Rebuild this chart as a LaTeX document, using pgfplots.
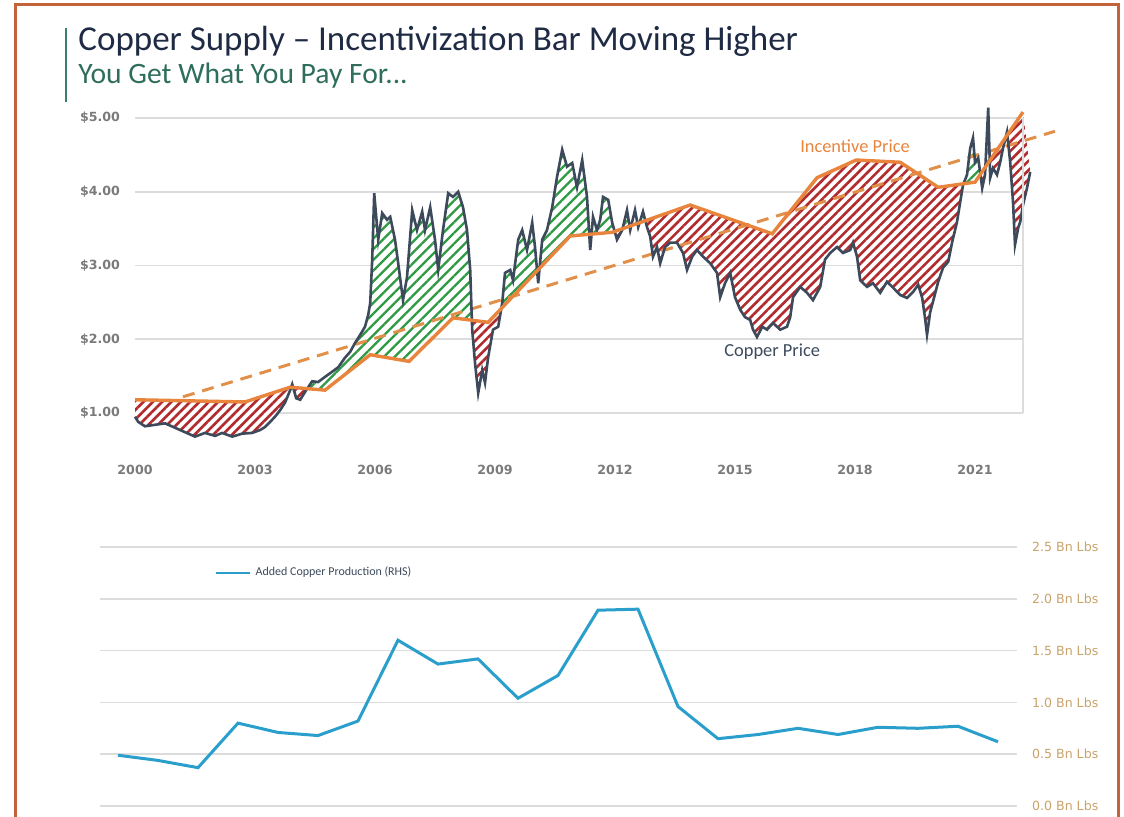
\documentclass[border=0pt]{standalone}
\usepackage{fontspec}
\setmainfont{Carlito}
\newfontfamily\tickfont{DejaVu Sans}
\usepackage{pgfplots}
\pgfplotsset{compat=1.18}
\usepackage{pgfplotstable}
\usepgfplotslibrary{fillbetween}
\usetikzlibrary{patterns.meta}

\definecolor{titlenavy}{HTML}{1F2A44}
\definecolor{subteal}{HTML}{2F6E5C}
\definecolor{barteal}{HTML}{3A8070}
\definecolor{framecol}{HTML}{C4623A}
\definecolor{coppercol}{HTML}{3C4A5C}
\definecolor{incentcol}{HTML}{E8843C}
\definecolor{trendcol}{HTML}{E0904A}
\definecolor{redhatch}{HTML}{B02A2E}
\definecolor{greenhatch}{HTML}{2F9A44}
\definecolor{gridcol}{HTML}{DCDCDC}
\definecolor{tickgray}{HTML}{7A7A7A}
\definecolor{prodblue}{HTML}{2A9FCB}
\definecolor{rhscol}{HTML}{C9A36B}

% copper price, $/lb
\pgfplotstableread{
year price
2000.00 0.95
2000.08 0.88
2000.25 0.82
2000.50 0.84
2000.75 0.86
2001.00 0.80
2001.25 0.74
2001.50 0.68
2001.75 0.73
2002.00 0.69
2002.18 0.73
2002.43 0.68
2002.68 0.72
2002.93 0.73
2003.13 0.77
2003.25 0.81
2003.38 0.88
2003.50 0.95
2003.63 1.04
2003.75 1.14
2003.88 1.31
2003.93 1.39
2004.03 1.20
2004.13 1.18
2004.28 1.31
2004.43 1.43
2004.58 1.42
2004.75 1.49
2004.93 1.56
2005.08 1.62
2005.25 1.75
2005.38 1.83
2005.50 1.95
2005.63 2.06
2005.75 2.17
2005.83 2.33
2005.88 2.49
2005.93 3.08
2005.98 3.98
2006.08 3.35
2006.18 3.71
2006.30 3.62
2006.38 3.66
2006.50 3.35
2006.58 3.03
2006.70 2.53
2006.80 2.84
2006.93 3.75
2007.05 3.48
2007.18 3.73
2007.25 3.48
2007.38 3.79
2007.50 3.35
2007.58 2.94
2007.70 3.48
2007.83 3.98
2007.95 3.93
2008.08 4.00
2008.20 3.79
2008.30 3.48
2008.38 2.94
2008.43 2.13
2008.50 1.68
2008.58 1.27
2008.68 1.58
2008.75 1.41
2008.83 1.76
2008.95 2.13
2009.08 2.17
2009.18 2.49
2009.25 2.90
2009.38 2.94
2009.45 2.80
2009.58 3.35
2009.68 3.48
2009.80 3.21
2009.93 3.58
2010.00 3.25
2010.08 2.76
2010.18 3.35
2010.30 3.48
2010.43 3.79
2010.55 4.20
2010.68 4.57
2010.80 4.34
2010.93 4.39
2011.05 4.06
2011.18 4.43
2011.30 3.93
2011.38 3.21
2011.45 3.66
2011.55 3.48
2011.63 3.62
2011.70 3.93
2011.83 3.89
2011.93 3.58
2012.05 3.35
2012.18 3.48
2012.30 3.75
2012.38 3.48
2012.50 3.75
2012.58 3.52
2012.70 3.73
2012.80 3.52
2012.88 3.39
2012.95 3.12
2013.05 3.25
2013.13 3.03
2013.25 3.25
2013.38 3.31
2013.55 3.31
2013.70 3.17
2013.80 2.94
2013.93 3.12
2014.05 3.21
2014.20 3.12
2014.38 3.03
2014.55 2.90
2014.63 2.57
2014.75 2.76
2014.88 2.90
2015.00 2.57
2015.13 2.40
2015.25 2.30
2015.38 2.26
2015.45 2.13
2015.55 2.03
2015.68 2.17
2015.80 2.13
2015.95 2.22
2016.13 2.13
2016.30 2.17
2016.38 2.30
2016.45 2.57
2016.63 2.71
2016.80 2.63
2016.95 2.53
2017.13 2.71
2017.25 3.08
2017.38 3.17
2017.55 3.25
2017.70 3.17
2017.88 3.21
2017.95 3.31
2018.05 3.12
2018.13 2.80
2018.30 2.71
2018.45 2.76
2018.63 2.63
2018.80 2.78
2018.95 2.70
2019.13 2.60
2019.30 2.56
2019.45 2.64
2019.58 2.74
2019.68 2.56
2019.75 2.29
2019.80 2.06
2019.88 2.37
2019.95 2.51
2020.08 2.78
2020.20 2.97
2020.33 3.05
2020.43 3.32
2020.55 3.59
2020.63 3.86
2020.70 4.09
2020.80 4.23
2020.88 4.59
2020.95 4.73
2021.00 4.40
2021.08 4.46
2021.18 4.05
2021.25 4.23
2021.33 5.14
2021.38 4.19
2021.45 4.32
2021.55 4.23
2021.63 4.40
2021.70 4.59
2021.80 4.81
2021.88 4.40
2021.95 3.86
2022.00 3.28
2022.08 3.51
2022.13 3.59
2022.20 3.82
2022.30 4.05
2022.38 4.27
}\copper

% incentive price, $/lb
\pgfplotstableread{
year price
2000.00 1.18
2002.75 1.15
2003.88 1.35
2004.75 1.31
2005.88 1.79
2006.85 1.70
2007.95 2.29
2008.83 2.23
2010.88 3.40
2011.93 3.45
2013.88 3.82
2015.93 3.43
2017.05 4.19
2018.03 4.43
2019.13 4.40
2020.08 4.06
2021.00 4.13
2022.20 5.08
}\incentive

% upper of the two curves (incentive where copper is below it, copper elsewhere; crossings included)
\pgfplotstableread{
year price
2000.00 1.18
2002.75 1.15
2003.88 1.35
2003.90 1.349
2003.93 1.39
2003.96 1.346
2004.35 1.328
2004.43 1.43
2004.58 1.42
2004.75 1.49
2004.93 1.56
2005.08 1.62
2005.25 1.75
2005.38 1.83
2005.50 1.95
2005.63 2.06
2005.75 2.17
2005.83 2.33
2005.88 2.49
2005.93 3.08
2005.98 3.98
2006.08 3.35
2006.18 3.71
2006.30 3.62
2006.38 3.66
2006.50 3.35
2006.58 3.03
2006.70 2.53
2006.80 2.84
2006.93 3.75
2007.05 3.48
2007.18 3.73
2007.25 3.48
2007.38 3.79
2007.50 3.35
2007.58 2.94
2007.70 3.48
2007.83 3.98
2007.95 3.93
2008.08 4.00
2008.20 3.79
2008.30 3.48
2008.38 2.94
2008.42 2.258
2008.83 2.23
2009.16 2.418
2009.18 2.49
2009.25 2.90
2009.38 2.94
2009.45 2.80
2009.58 3.35
2009.68 3.48
2009.80 3.21
2009.93 3.58
2010.00 3.25
2010.053 2.928
2010.114 2.963
2010.18 3.35
2010.30 3.48
2010.43 3.79
2010.55 4.20
2010.68 4.57
2010.80 4.34
2010.93 4.39
2011.05 4.06
2011.18 4.43
2011.30 3.93
2011.356 3.423
2011.414 3.426
2011.45 3.66
2011.55 3.48
2011.63 3.62
2011.70 3.93
2011.83 3.89
2011.93 3.58
2011.99 3.461
2012.19 3.499
2012.30 3.75
2012.364 3.532
2012.407 3.540
2012.50 3.75
2012.562 3.570
2012.614 3.580
2012.70 3.73
2012.7585 3.607
2013.88 3.82
2015.93 3.43
2017.05 4.19
2018.03 4.43
2019.13 4.40
2020.08 4.06
2020.713 4.108
2020.80 4.23
2020.88 4.59
2020.95 4.73
2021.00 4.40
2021.08 4.46
2021.1345 4.237
2021.259 4.335
2021.33 5.14
2021.368 4.421
2021.767 4.737
2021.80 4.81
2021.808 4.770
2022.20 5.08
}\highenv

% lower of the two curves
\pgfplotstableread{
year price
2000.00 0.95
2000.08 0.88
2000.25 0.82
2000.50 0.84
2000.75 0.86
2001.00 0.80
2001.25 0.74
2001.50 0.68
2001.75 0.73
2002.00 0.69
2002.18 0.73
2002.43 0.68
2002.68 0.72
2002.93 0.73
2003.13 0.77
2003.25 0.81
2003.38 0.88
2003.50 0.95
2003.63 1.04
2003.75 1.14
2003.88 1.31
2003.90 1.349
2003.96 1.346
2004.03 1.20
2004.13 1.18
2004.28 1.31
2004.35 1.328
2004.75 1.31
2005.88 1.79
2006.85 1.70
2007.95 2.29
2008.42 2.258
2008.43 2.13
2008.50 1.68
2008.58 1.27
2008.68 1.58
2008.75 1.41
2008.83 1.76
2008.95 2.13
2009.08 2.17
2009.16 2.418
2010.053 2.928
2010.08 2.76
2010.114 2.963
2010.88 3.40
2011.356 3.423
2011.38 3.21
2011.414 3.426
2011.93 3.45
2011.99 3.461
2012.05 3.35
2012.18 3.48
2012.19 3.499
2012.364 3.532
2012.38 3.48
2012.407 3.540
2012.562 3.570
2012.58 3.52
2012.614 3.580
2012.7585 3.607
2012.80 3.52
2012.88 3.39
2012.95 3.12
2013.05 3.25
2013.13 3.03
2013.25 3.25
2013.38 3.31
2013.55 3.31
2013.70 3.17
2013.80 2.94
2013.93 3.12
2014.05 3.21
2014.20 3.12
2014.38 3.03
2014.55 2.90
2014.63 2.57
2014.75 2.76
2014.88 2.90
2015.00 2.57
2015.13 2.40
2015.25 2.30
2015.38 2.26
2015.45 2.13
2015.55 2.03
2015.68 2.17
2015.80 2.13
2015.95 2.22
2016.13 2.13
2016.30 2.17
2016.38 2.30
2016.45 2.57
2016.63 2.71
2016.80 2.63
2016.95 2.53
2017.13 2.71
2017.25 3.08
2017.38 3.17
2017.55 3.25
2017.70 3.17
2017.88 3.21
2017.95 3.31
2018.05 3.12
2018.13 2.80
2018.30 2.71
2018.45 2.76
2018.63 2.63
2018.80 2.78
2018.95 2.70
2019.13 2.60
2019.30 2.56
2019.45 2.64
2019.58 2.74
2019.68 2.56
2019.75 2.29
2019.80 2.06
2019.88 2.37
2019.95 2.51
2020.08 2.78
2020.20 2.97
2020.33 3.05
2020.43 3.32
2020.55 3.59
2020.63 3.86
2020.70 4.09
2020.713 4.108
2021.00 4.13
2021.1345 4.237
2021.18 4.05
2021.25 4.23
2021.259 4.335
2021.368 4.421
2021.38 4.19
2021.45 4.32
2021.55 4.23
2021.63 4.40
2021.70 4.59
2021.767 4.737
2021.808 4.770
2021.88 4.40
2021.95 3.86
2022.00 3.28
2022.08 3.51
2022.13 3.59
2022.20 3.82
2022.30 4.05
2022.38 4.27
}\lowenv

% added copper production, bn lbs
\pgfplotstableread{
year prod
2000 0.49
2001 0.44
2002 0.37
2003 0.80
2004 0.71
2005 0.68
2006 0.82
2007 1.60
2008 1.37
2009 1.42
2010 1.04
2011 1.26
2012 1.89
2013 1.90
2014 0.96
2015 0.65
2016 0.69
2017 0.75
2018 0.69
2019 0.76
2020 0.75
2021 0.77
2022 0.62
}\production

\begin{document}
\begin{tikzpicture}

% frame, title block
\draw[framecol, line width=1.5pt] (7.5pt,-2pt) -- (7.5pt,405.5pt) -- (559pt,405.5pt) -- (559pt,-2pt);
\draw[barteal, line width=1.4pt] (33pt,357pt) -- (33pt,394pt);
\node[anchor=base west, inner sep=0pt, text=titlenavy, font=\fontsize{17.5}{20}\selectfont]
  at (39pt,382.5pt) {Copper Supply – Incentivization Bar Moving Higher};
\node[anchor=base west, inner sep=0pt, text=subteal, font=\fontsize{14.8}{16}\selectfont]
  at (39pt,366pt) {You Get What You Pay For...};

% price chart
\begin{axis}[
  at={(67.5pt,179pt)}, anchor=south west,
  scale only axis, width=444pt, height=173.7pt,
  xmin=2000, xmax=2022.2, ymin=0.39, ymax=5.1,
  clip=false,
  axis line style={draw=none}, tick style={draw=none},
  ymajorgrids, grid style={gridcol, line width=0.8pt},
  ytick={1,2,3,4,5},
  yticklabels={\$1.00,\$2.00,\$3.00,\$4.00,\$5.00},
  xtick={2000,2003,2006,2009,2012,2015,2018,2021},
  xticklabels={2000,2003,2006,2009,2012,2015,2018,2021},
  ticklabel style={font=\tickfont\bfseries\fontsize{6.3}{7}\selectfont, text=tickgray},
  yticklabel style={xshift=-4pt},
]
\addplot[draw=none, name path=copper] table[x=year, y=price] {\copper};
\addplot[draw=none, name path=hi] table[x=year, y=price] {\highenv};
\addplot[draw=none, name path=lo] table[x=year, y=price] {\lowenv};
% copper below incentive: red hatch
\addplot[draw=none, fill=white] fill between[of=copper and hi];
\addplot[draw=none, pattern={Lines[angle=45,distance=3.3pt,line width=1.3pt]}, pattern color=redhatch]
  fill between[of=copper and hi];
% copper above incentive: green hatch
\addplot[draw=none, fill=white] fill between[of=copper and lo];
\addplot[draw=none, pattern={Lines[angle=45,distance=3.8pt,line width=1.1pt]}, pattern color=greenhatch]
  fill between[of=copper and lo];
\addplot[trendcol, line width=1.5pt, dash pattern=on 6pt off 4pt] coordinates {(2001.2,1.22) (2023.0,4.82)};
\addplot[coppercol, line width=1.3pt] table[x=year, y=price] {\copper};
\addplot[incentcol, line width=1.7pt] table[x=year, y=price] {\incentive};
\draw[gridcol, line width=0.9pt] (axis cs:2022.2,1) -- (axis cs:2022.2,5);
\node[text=incentcol, font=\fontsize{9.2}{11}\selectfont] at (axis cs:2018,4.62) {Incentive Price};
\node[text=coppercol, font=\fontsize{9.2}{11}\selectfont] at (axis cs:2015.93,1.83) {Copper Price};
\end{axis}

% production chart
\begin{axis}[
  at={(50pt,5pt)}, anchor=south west,
  scale only axis, width=458.5pt, height=129.5pt,
  xmin=1999.55, xmax=2022.475, ymin=0, ymax=2.5,
  clip=false,
  axis line style={draw=none}, tick style={draw=none},
  xtick=\empty,
  ymajorgrids, grid style={gridcol, line width=0.8pt},
  ytick={0,0.5,1,1.5,2,2.5},
  yticklabels={0.0 Bn Lbs,0.5 Bn Lbs,1.0 Bn Lbs,1.5 Bn Lbs,2.0 Bn Lbs,2.5 Bn Lbs},
  yticklabel pos=right,
  yticklabel style={font=\tickfont\fontsize{6.3}{7}\selectfont, text=rhscol, anchor=west, xshift=4pt},
  legend style={at={(0.125,0.9)}, anchor=west, draw=none, fill=none, inner sep=0pt,
    font=\fontsize{6}{7}\selectfont, text=coppercol},
  legend image code/.code={\draw[#1, line width=1.3pt] (0pt,0pt) -- (17pt,0pt);},
]
\addplot[prodblue, line width=1.5pt] table[x=year, y=prod] {\production};
\addlegendentry{Added Copper Production (RHS)}
\end{axis}

\pgfresetboundingbox
\path[use as bounding box] (0,0) rectangle (562pt,408pt);
\end{tikzpicture}
\end{document}
